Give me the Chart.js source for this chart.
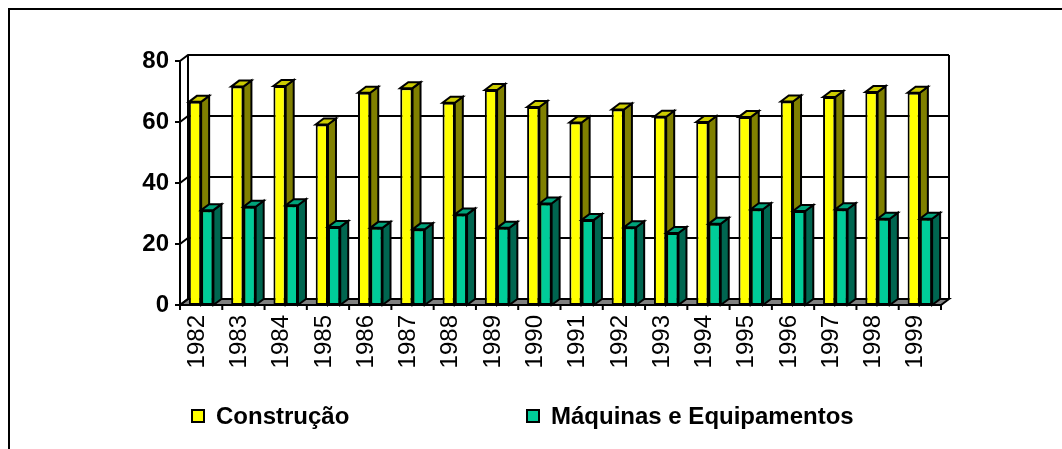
<!DOCTYPE html>
<html>
<head>
<meta charset="utf-8">
<script src="https://cdn.jsdelivr.net/npm/chart.js@4"></script>
<style>
    body { margin: 0; background: #fff; }
    #wrap { position: relative; width: 1062px; height: 449px; overflow: hidden; }
    #frame { position: absolute; left: 8px; top: 8px; width: 1060px; height: 445px; border-top: 2px solid #000; border-left: 2px solid #000; }
    canvas { position: absolute; left: 0; top: 0; }
    .leg { position: absolute; top: 402px; font: bold 24px "Liberation Sans", Arial, sans-serif; line-height: 28px; color: #000; white-space: nowrap; }
    .leg span { display: inline-block; width: 10px; height: 10px; border: 2px solid #000; margin-right: 11px; vertical-align: 1px; }
</style>
</head>
<body>
<div id="wrap">
    <div id="frame"></div>
    <canvas id="chart" width="1062" height="449"></canvas>
    <div class="leg" style="left:191px"><span style="background:#ffff00"></span>Construção</div>
    <div class="leg" style="left:526px"><span style="background:#00cc99"></span>Máquinas e Equipamentos</div>
</div>
<script>
// data
const years = ['1982', '1983', '1984', '1985', '1986', '1987', '1988', '1989', '1990',
    '1991', '1992', '1993', '1994', '1995', '1996', '1997', '1998', '1999'];
const construcao = [66.6, 71.6, 71.8, 59.2, 69.6, 71.1, 66.3, 70.5, 64.9,
    59.8, 64.1, 61.7, 60.0, 61.6, 66.7, 68.2, 69.8, 69.6];
const maquinas = [31.1, 32.2, 32.7, 25.6, 25.3, 24.8, 29.7, 25.3, 33.3,
    27.9, 25.5, 23.6, 26.6, 31.4, 30.8, 31.4, 28.3, 28.3];
const yTicks = [0, 20, 40, 60, 80];

// depth of the 3d look
const DX = 8, DY = -6;
const sideColors = ['#808000', '#006650'];
const topColors = ['#cccc00', '#00a37a'];

function drawFaces(ctx, meta, i) {
    meta.data.forEach(function(bar) {
        let p = bar.getProps(['x', 'y', 'base', 'width'], true);
        let l = p.x - p.width / 2, r = p.x + p.width / 2;
        // side face
        ctx.fillStyle = sideColors[i];
        ctx.beginPath();
        ctx.moveTo(r, p.base);
        ctx.lineTo(r + DX, p.base + DY);
        ctx.lineTo(r + DX, p.y + DY);
        ctx.lineTo(r, p.y);
        ctx.closePath();
        ctx.fill();
        ctx.stroke();
        // top face
        ctx.fillStyle = topColors[i];
        ctx.beginPath();
        ctx.moveTo(l, p.y);
        ctx.lineTo(l + DX, p.y + DY);
        ctx.lineTo(r + DX, p.y + DY);
        ctx.lineTo(r, p.y);
        ctx.closePath();
        ctx.fill();
        ctx.stroke();
    });
}

// walls, floor and gridlines behind the bars, 3d faces on top
const walls = {
    id: 'walls',
    beforeDatasetsDraw(chart) {
        let ctx = chart.ctx;
        let a = chart.chartArea;
        let y = chart.scales.y;
        ctx.save();
        ctx.lineWidth = 2;
        ctx.strokeStyle = '#000';

        // floor
        ctx.fillStyle = '#808080';
        ctx.beginPath();
        ctx.moveTo(a.left, a.bottom);
        ctx.lineTo(a.right, a.bottom);
        ctx.lineTo(a.right + DX, a.bottom + DY);
        ctx.lineTo(a.left + DX, a.bottom + DY);
        ctx.closePath();
        ctx.fill();
        ctx.stroke();

        // gridlines on left and back wall
        yTicks.forEach(function(v) {
            let py = y.getPixelForValue(v);
            ctx.beginPath();
            ctx.moveTo(a.left, py);
            ctx.lineTo(a.left + DX, py + DY);
            ctx.lineTo(a.right + DX, py + DY);
            ctx.stroke();
            ctx.beginPath();
            ctx.moveTo(a.left - 5, py);
            ctx.lineTo(a.left, py);
            ctx.stroke();
        });

        // wall edges
        ctx.beginPath();
        ctx.moveTo(a.left, a.bottom);
        ctx.lineTo(a.left, a.top);
        ctx.moveTo(a.left + DX, a.bottom + DY);
        ctx.lineTo(a.left + DX, a.top + DY);
        ctx.moveTo(a.right + DX, a.bottom + DY);
        ctx.lineTo(a.right + DX, a.top + DY);
        ctx.stroke();

        // category ticks under the floor
        for (let i = 0; i <= years.length; i++) {
            let px = a.left + (a.right - a.left) * i / years.length;
            ctx.beginPath();
            ctx.moveTo(px, a.bottom);
            ctx.lineTo(px, a.bottom + 5);
            ctx.stroke();
        }
        ctx.restore();
    },
    afterDatasetsDraw(chart) {
        let ctx = chart.ctx;
        let m0 = chart.getDatasetMeta(0);
        let m1 = chart.getDatasetMeta(1);
        ctx.save();
        ctx.lineWidth = 2;
        ctx.strokeStyle = '#000';
        drawFaces(ctx, m0, 0);
        // green front faces again so they sit in front of the yellow sides
        m1.data.forEach(function(bar) { bar.draw(ctx); });
        ctx.lineWidth = 2;
        ctx.strokeStyle = '#000';
        drawFaces(ctx, m1, 1);
        ctx.restore();
    }
};

new Chart(document.getElementById('chart'), {
    type: 'bar',
    data: {
        labels: years,
        datasets: [{
            label: 'Construção',
            data: construcao,
            backgroundColor: '#ffff00',
            borderColor: '#000',
            borderWidth: 2,
            borderSkipped: false
        }, {
            label: 'Máquinas e Equipamentos',
            data: maquinas,
            backgroundColor: '#00cc99',
            borderColor: '#000',
            borderWidth: 2,
            borderSkipped: false
        }]
    },
    options: {
        responsive: false,
        animation: false,
        layout: { padding: { left: 0, top: 61, right: 121, bottom: 0 } },
        plugins: { legend: { display: false }, tooltip: { enabled: false } },
        datasets: { bar: { categoryPercentage: 0.58, barPercentage: 1 } },
        scales: {
            x: {
                grid: { display: false },
                border: { display: false },
                ticks: {
                    color: '#000',
                    font: { family: 'Liberation Sans', size: 24 },
                    minRotation: 90,
                    maxRotation: 90,
                    padding: 2,
                    labelOffset: -4,
                    autoSkip: false
                },
                afterFit(scale) { scale.height = 144; }
            },
            y: {
                min: 0,
                max: 80,
                grid: { display: false },
                border: { display: false },
                ticks: {
                    stepSize: 20,
                    color: '#000',
                    font: { family: 'Liberation Sans', size: 24, weight: 'bold' },
                    padding: 3
                },
                afterFit(scale) { scale.width = 180; }
            }
        }
    },
    plugins: [walls]
});
</script>
</body>
</html>
